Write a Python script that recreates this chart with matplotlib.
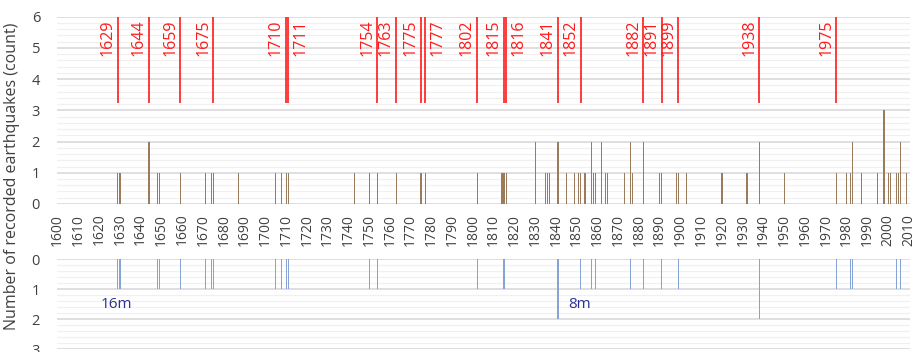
import numpy as np
import matplotlib
matplotlib.use("Agg")
import matplotlib.pyplot as plt
from matplotlib.ticker import MultipleLocator

plt.rcParams['font.family'] = ['Open Sans', 'DejaVu Sans']

# recorded earthquakes per year (top panel)
quake_years = [1629, 1630, 1644, 1648, 1649, 1659, 1671, 1674, 1675, 1687,
               1705, 1708, 1710, 1711, 1743, 1750, 1754, 1763, 1775, 1777,
               1802, 1814, 1815, 1816, 1830, 1835, 1836, 1837, 1841, 1845,
               1849, 1851, 1852, 1854, 1857, 1858, 1859, 1862, 1864, 1865,
               1873, 1876, 1877, 1882, 1890, 1891, 1898, 1899, 1903, 1920,
               1932, 1938, 1950, 1975, 1980, 1982, 1983, 1987, 1995, 1998,
               2000, 2001, 2004, 2005, 2006, 2009]
quake_counts = [1, 1, 2, 1, 1, 1, 1, 1, 1, 1,
                1, 1, 1, 1, 1, 1, 1, 1, 1, 1,
                1, 1, 1, 1, 2, 1, 1, 1, 2, 1,
                1, 1, 1, 1, 2, 1, 1, 2, 1, 1,
                1, 2, 1, 2, 1, 1, 1, 1, 1, 1,
                1, 2, 1, 1, 1, 1, 2, 1, 1, 3,
                1, 1, 1, 1, 2, 1]

# lower panel (inverted)
lower_years = [1629, 1630, 1648, 1649, 1659, 1671, 1674, 1675, 1705, 1708,
               1710, 1711, 1750, 1754, 1802, 1815, 1841, 1852, 1857, 1859,
               1876, 1882, 1891, 1899, 1938, 1975, 1982, 1983, 2004, 2006]
lower_counts = [1, 1, 1, 1, 1, 1, 1, 1, 1, 1,
                1, 1, 1, 1, 1, 1, 2, 1, 1, 1,
                1, 1, 1, 1, 2, 1, 1, 1, 1, 1]

# marked years (red lines)
marked_years = [1629, 1644, 1659, 1675, 1710, 1711, 1754, 1763, 1775, 1777,
                1802, 1815, 1816, 1841, 1852, 1882, 1891, 1899, 1938, 1975]
label_right = [1711, 1777, 1816]

notes = ["16m", "8m"]
note_years = [1628.5, 1851.5]

brown = '#9a7b5c'
blue = '#86a3d8'
grid_major = '#d9d9d9'
grid_minor = '#f0f0f0'

fig = plt.figure(figsize=(9.17, 3.52), dpi=100)
left, right = 0.0618, 0.9923
ax1 = fig.add_axes([left, 0.4205, right - left, 0.9526 - 0.4205])
ax2 = fig.add_axes([left, 0.008, right - left, 0.2642 - 0.008])

for ax in (ax1, ax2):
    ax.set_xlim(1599.5, 2010.5)
    for s in ax.spines.values():
        s.set_visible(False)
    ax.yaxis.set_major_locator(MultipleLocator(1))
    ax.yaxis.set_minor_locator(MultipleLocator(0.2))
    ax.grid(axis='y', which='major', color=grid_major, linewidth=1.2, zorder=0)
    ax.grid(axis='y', which='minor', color=grid_minor, linewidth=0.9, zorder=0)
    ax.tick_params(axis='y', which='both', length=0, labelsize=10.5, pad=12, colors='#404040')
    ax.set_axisbelow(True)

# top panel
ax1.set_ylim(0, 6)
ax1.bar(quake_years, quake_counts, width=0.55, color=brown, zorder=2)
ax1.vlines(marked_years, 3.25, 6, color='#ff1a1a', linewidth=1.2, zorder=3)
for yr in marked_years:
    if yr in label_right:
        ax1.text(yr + 2.2, 5.9, str(yr), rotation=90, ha='left', va='top',
                 color='#ff1a1a', fontsize=11.5)
    else:
        ax1.text(yr - 1.0, 5.9, str(yr), rotation=90, ha='right', va='top',
                 color='#ff1a1a', fontsize=11.5)
ax1.set_xticks(np.arange(1600, 2011, 10))
ax1.tick_params(axis='x', length=0, labelsize=10, pad=7, labelrotation=90, colors='#404040')

# bottom panel
ax2.set_ylim(3, 0)
ax2.bar(lower_years, lower_counts, width=0.55, color=blue, zorder=2)
ax2.set_xticks([])
for txt, yr in zip(notes, note_years):
    ax2.text(yr, 1.53, txt, ha='center', va='center', color='#2e3192', fontsize=11)

fig.text(0.013, 0.5, 'Number of recorded earthquakes (count)', rotation=90,
         ha='center', va='center', fontsize=11.5, color='#404040')

fig.savefig('out.png', dpi=100)
